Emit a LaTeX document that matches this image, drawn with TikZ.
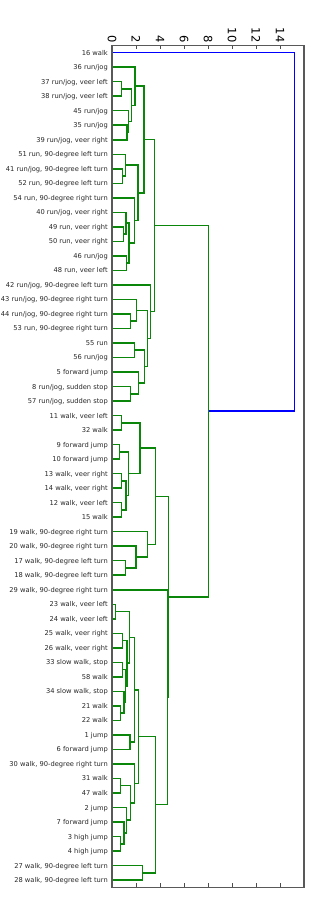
\documentclass[tikz,border=0pt]{standalone}
\usepackage{fontspec}
\setmainfont{DejaVu Sans}
\usetikzlibrary{calc}
\definecolor{dgreen}{RGB}{10,135,10}
\definecolor{dblue}{RGB}{0,0,255}
\tikzset{
  link/.style={line width=1.5pt, line join=miter},
  leaf/.style={anchor=base east, inner sep=0pt, text=black!85, font=\fontsize{6.7}{8}\selectfont},
  ticklab/.style={rotate=-90, anchor=east, inner sep=0pt, font=\fontsize{11.5}{12}\selectfont},
  tickmark/.style={line width=0.8pt, draw=black!70},
  spine/.style={line width=1.5pt, draw=black!65}
}
\newcommand\dmerge[5][dgreen]{%
  \path let \p1=(#3), \p2=(#4) in coordinate (#2) at ({(112+12*#5)*1pt},{0.5*(\y1)+0.5*(\y2)});
  \draw[link,draw=#1] (#3) -| (#2) |- (#4);}
\begin{document}
\begin{tikzpicture}[x=1pt,y=-1pt]
\useasboundingbox (0,0) rectangle (320,902);
\foreach \i/\t in {1/{16 walk},2/{36 run/jog},3/{37 run/jog, veer left},4/{38 run/jog, veer left},
 5/{45 run/jog},6/{35 run/jog},7/{39 run/jog, veer right},8/{51 run, 90-degree left turn},
 9/{41 run/jog, 90-degree left turn},10/{52 run, 90-degree left turn},11/{54 run, 90-degree right turn},
 12/{40 run/jog, veer right},13/{49 run, veer right},14/{50 run, veer right},15/{46 run/jog},
 16/{48 run, veer left},17/{42 run/jog, 90-degree left turn},18/{43 run/jog, 90-degree right turn},
 19/{44 run/jog, 90-degree right turn},20/{53 run, 90-degree right turn},21/{55 run},22/{56 run/jog},
 23/{5 forward jump},24/{8 run/jog, sudden stop},25/{57 run/jog, sudden stop},26/{11 walk, veer left},
 27/{32 walk},28/{9 forward jump},29/{10 forward jump},30/{13 walk, veer right},31/{14 walk, veer right},
 32/{12 walk, veer left},33/{15 walk},34/{19 walk, 90-degree right turn},35/{20 walk, 90-degree right turn},
 36/{17 walk, 90-degree left turn},37/{18 walk, 90-degree left turn},38/{29 walk, 90-degree right turn},
 39/{23 walk, veer left},40/{24 walk, veer left},41/{25 walk, veer right},42/{26 walk, veer right},
 43/{33 slow walk, stop},44/{58 walk},45/{34 slow walk, stop},46/{21 walk},47/{22 walk},48/{1 jump},
 49/{6 forward jump},50/{30 walk, 90-degree right turn},51/{31 walk},52/{47 walk},53/{2 jump},
 54/{7 forward jump},55/{3 high jump},56/{4 high jump},57/{27 walk, 90-degree left turn},
 58/{28 walk, 90-degree left turn}}{
  \pgfmathsetmacro\ly{45.4+14.516*(\i-0.5)}
  \coordinate (L\i) at (112,\ly);
  \node[leaf] (N\i) at (108,{\ly+2.5}) {\t};
}
\dmerge{a1}{L3}{L4}{0.78}
\dmerge{a2}{L6}{L7}{1.25}
\dmerge{a3}{L5}{a2}{1.39}
\dmerge{a4}{a1}{a3}{1.61}
\dmerge{a5}{L2}{a4}{1.92}
\dmerge{b1}{L9}{L10}{0.86}
\dmerge{b2}{L8}{b1}{1.11}
\dmerge{b3}{L13}{L14}{0.97}
\dmerge{b4}{L12}{b3}{1.17}
\dmerge{b5}{L15}{L16}{1.19}
\dmerge{b6}{b4}{b5}{1.42}
\dmerge{b7}{L11}{b6}{1.86}
\dmerge{b8}{b2}{b7}{2.17}
\dmerge{cA}{a5}{b8}{2.67}
\dmerge{c1}{L19}{L20}{1.56}
\dmerge{c2}{L18}{c1}{2.06}
\dmerge{c3}{L21}{L22}{1.86}
\dmerge{c4}{L24}{L25}{1.56}
\dmerge{c5}{L23}{c4}{2.19}
\dmerge{c6}{c3}{c5}{2.69}
\dmerge{c7}{c2}{c6}{2.97}
\dmerge{cB}{L17}{c7}{3.19}
\dmerge{cR}{cA}{cB}{3.55}
\dmerge{d1}{L26}{L27}{0.78}
\dmerge{d2}{L28}{L29}{0.61}
\dmerge{d3}{L30}{L31}{0.81}
\dmerge{d4}{L32}{L33}{0.81}
\dmerge{d5}{d3}{d4}{1.15}
\dmerge{d6}{d2}{d5}{1.36}
\dmerge{d7}{d1}{d6}{2.33}
\dmerge{e1}{L36}{L37}{1.11}
\dmerge{e2}{L35}{e1}{2.0}
\dmerge{e3}{L34}{e2}{2.94}
\dmerge{w1}{d7}{e3}{3.64}
\dmerge{f1}{L39}{L40}{0.28}
\dmerge{f2}{L41}{L42}{0.89}
\dmerge{f3}{L43}{L44}{0.89}
\dmerge{f4}{L46}{L47}{0.69}
\dmerge{f5}{L45}{f4}{1.0}
\dmerge{f6}{f3}{f5}{1.12}
\dmerge{f7}{f2}{f6}{1.24}
\dmerge{f8}{f1}{f7}{1.44}
\dmerge{f9}{L48}{L49}{1.5}
\dmerge{f10}{f8}{f9}{1.89}
\dmerge{g1}{L51}{L52}{0.69}
\dmerge{g2}{L55}{L56}{0.72}
\dmerge{g3}{L54}{g2}{1.0}
\dmerge{g4}{L53}{g3}{1.22}
\dmerge{g5}{g1}{g4}{1.56}
\dmerge{g6}{L50}{g5}{1.89}
\dmerge{f11}{f10}{g6}{2.19}
\dmerge{h1}{L57}{L58}{2.55}
\dmerge{w3}{f11}{h1}{3.64}
\dmerge{w2}{L38}{w3}{4.63}
\dmerge{cW}{w1}{w2}{4.72}
\dmerge{cT}{cR}{cW}{8.05}
\dmerge[dblue]{root}{L1}{cT}{15.22}
\foreach \v in {0,2,...,14}{
  \draw[tickmark] ({112+12*\v},45.4) -- ++(0,4);
  \draw[tickmark] ({112+12*\v},887.3) -- ++(0,-4);
  \node[ticklab] (t\v) at ({112+12*\v},42.8) {\v};
}
\draw[spine] (112,45.4) rectangle (304,887.3);
\end{tikzpicture}
\end{document}
